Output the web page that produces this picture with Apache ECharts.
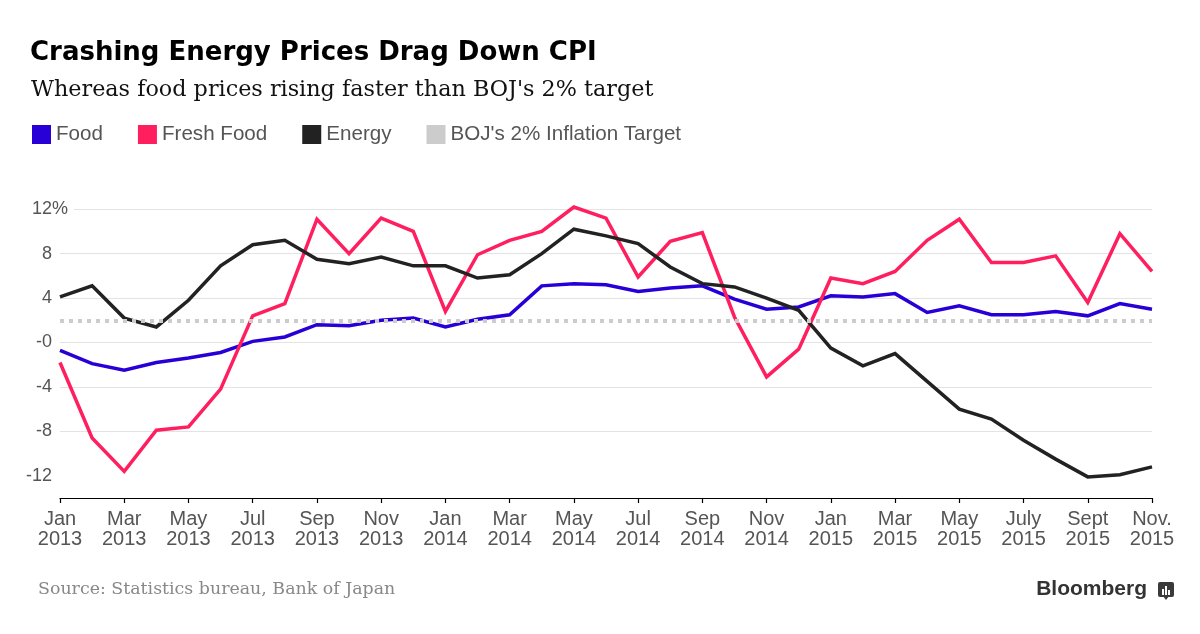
<!DOCTYPE html>
<html><head><meta charset="utf-8">
<script src="https://cdn.jsdelivr.net/npm/echarts@6/dist/echarts.min.js"></script>
<style>html,body{margin:0;padding:0;background:#fff}#c{width:1200px;height:634px}</style>
</head><body><div id="c"></div>
<script>
const TITLE = 'Crashing Energy Prices Drag Down CPI';
const SUBTITLE = "Whereas food prices rising faster than BOJ's 2% target";
const SOURCE = 'Source: Statistics bureau, Bank of Japan';
const SERIES_NAMES = ['Food', 'Fresh Food', 'Energy', "BOJ's 2% Inflation Target"];

const months = [
  'Jan\n2013','Feb\n2013','Mar\n2013','Apr\n2013','May\n2013','Jun\n2013','Jul\n2013','Aug\n2013','Sep\n2013','Oct\n2013','Nov\n2013','Dec\n2013',
  'Jan\n2014','Feb\n2014','Mar\n2014','Apr\n2014','May\n2014','Jun\n2014','Jul\n2014','Aug\n2014','Sep\n2014','Oct\n2014','Nov\n2014','Dec\n2014',
  'Jan\n2015','Feb\n2015','Mar\n2015','Apr\n2015','May\n2015','Jun\n2015','July\n2015','Aug\n2015','Sept\n2015','Oct\n2015','Nov.\n2015'
];
const food = [
  -0.7,-1.9,-2.5,-1.8,-1.4,-0.9,0.1,0.5,1.6,1.5,2.0,2.2,
  1.4,2.1,2.5,5.1,5.3,5.2,4.6,4.9,5.1,3.9,3.0,3.2,
  4.2,4.1,4.4,2.7,3.3,2.5,2.5,2.8,2.4,3.5,3.0
];
const freshFood = [
  -1.8,-8.6,-11.6,-7.9,-7.6,-4.2,2.4,3.5,11.1,8.0,11.2,10.0,
  2.8,7.9,9.2,10.0,12.2,11.2,5.9,9.1,9.9,2.3,-3.1,-0.6,
  5.8,5.3,6.4,9.2,11.1,7.2,7.2,7.8,3.6,9.8,6.4
];
const energy = [
  4.1,5.1,2.2,1.4,3.8,6.9,8.8,9.2,7.5,7.1,7.7,6.9,
  6.9,5.8,6.1,8.0,10.2,9.6,8.9,6.8,5.3,5.0,4.0,2.9,
  -0.5,-2.1,-1.0,-3.5,-6.0,-6.9,-8.8,-10.5,-12.1,-11.9,-11.2
];
const BOJ_TARGET = 2;
const yTickLabels = {'12': '12', '8': '8', '4': '4', '0': '-0', '-4': '-4', '-8': '-8', '-12': '-12'};
const yGridValues = [-8, -4, 0, 4, 8, 12];

const Y_MIN = -14, Y_MAX = 14, Y_STEP = 2;
const GRID_COLOR = '#e3e3e3';
const splitColors = [];
for (let v = Y_MIN; v <= Y_MAX; v += Y_STEP) splitColors.push(yGridValues.indexOf(v) >= 0 ? GRID_COLOR : 'rgba(0,0,0,0)');

const COLORS = ['#2800d7', '#ff1f5f', '#222222', '#cccccc'];
const chart = echarts.init(document.getElementById('c'), null, {renderer: 'canvas'});
const lineSeries = (name, data, color) => ({
  name, type: 'line', data, showSymbol: false, symbol: 'none',
  color, itemStyle: {color},
  lineStyle: {color, width: 3.5, join: 'miter'},
  emphasis: {disabled: true}
});

chart.setOption({
  animation: false,
  backgroundColor: '#fff',
  title: [
    {text: TITLE, left: 30, top: 40, padding: 0,
     textStyle: {fontFamily: 'DejaVu Sans', fontWeight: 'bold', fontSize: 26, color: '#000'}},
    {text: SUBTITLE, left: 31, top: 79, padding: 0,
     textStyle: {fontFamily: 'DejaVu Serif', fontWeight: 'normal', fontSize: 22.3, color: '#111'}},
    {text: SOURCE, left: 38, top: 581, padding: 0,
     textStyle: {fontFamily: 'DejaVu Serif', fontWeight: 'normal', fontSize: 17.4, color: '#888'}},
    {text: 'Bloomberg', right: 53, top: 579, padding: 0,
     textStyle: {fontFamily: 'Liberation Sans', fontWeight: 'bold', fontSize: 21, color: '#333'}}
  ],
  legend: {
    left: 32, top: 124, padding: 0, icon: 'rect', itemWidth: 19, itemHeight: 19, itemGap: 35,
    itemStyle: {borderWidth: 0},
    textStyle: {fontFamily: 'Liberation Sans', fontSize: 20.6, color: '#555', padding: [0, 0, 0, 0]},
    data: SERIES_NAMES, selectedMode: false
  },
  grid: {left: 60, right: 48, top: 187, bottom: 136, containLabel: false},
  xAxis: {
    type: 'category', data: months, boundaryGap: false,
    axisLine: {onZero: false, lineStyle: {color: '#000', width: 1.2}},
    axisTick: {show: true, interval: 1, length: 5, lineStyle: {color: '#000', width: 1.2}},
    axisLabel: {interval: 1, margin: 12, fontFamily: 'Liberation Sans', fontSize: 20, lineHeight: 19.5, color: '#555'},
    splitLine: {show: false}
  },
  yAxis: {
    type: 'value', min: Y_MIN, max: Y_MAX, interval: Y_STEP,
    axisLine: {show: false}, axisTick: {show: false},
    splitLine: {show: true, showMinLine: true, showMaxLine: true, lineStyle: {color: splitColors, width: 1}},
    axisLabel: {
      margin: -14, fontFamily: 'Liberation Sans', fontSize: 18, color: '#555',
      formatter: v => {
        const t = yTickLabels[String(v)];
        if (t === undefined) return '';
        return v === 12 ? '{n|' + t + '}{q|%}' : '{n|' + t + '}{p| }';
      },
      rich: {
        n: {fontFamily: 'Liberation Sans', fontSize: 18, color: '#555'},
        p: {fontFamily: 'Liberation Sans', fontSize: 18, width: 22},
        q: {fontFamily: 'Liberation Sans', fontSize: 18, color: '#555', backgroundColor: '#fff', padding: [0, 6, 0, 0]}
      }
    }
  },
  series: [
    lineSeries(SERIES_NAMES[0], food, COLORS[0]),
    lineSeries(SERIES_NAMES[1], freshFood, COLORS[1]),
    lineSeries(SERIES_NAMES[2], energy, COLORS[2]),
    {
      name: SERIES_NAMES[3], type: 'line', data: [], color: COLORS[3], itemStyle: {color: COLORS[3]},
      lineStyle: {color: COLORS[3]}, showSymbol: false,
      markLine: {
        silent: true, symbol: ['none', 'none'], label: {show: false}, animation: false,
        lineStyle: {color: COLORS[3], type: [4, 5], width: 4},
        emphasis: {disabled: true},
        data: [{yAxis: BOJ_TARGET}]
      }
    }
  ],
  graphic: [
    {type: 'group', left: 1158, top: 582, children: [
      {type: 'rect', shape: {x: 0, y: 0, width: 16, height: 15, r: 2}, style: {fill: '#3a3a3a'}},
      {type: 'polygon', shape: {points: [[5, 14], [11, 14], [8, 18]]}, style: {fill: '#3a3a3a'}},
      {type: 'rect', shape: {x: 4, y: 7, width: 2, height: 6}, style: {fill: '#fff'}},
      {type: 'rect', shape: {x: 7, y: 4, width: 2, height: 9}, style: {fill: '#fff'}},
      {type: 'rect', shape: {x: 10, y: 8, width: 2, height: 5}, style: {fill: '#fff'}}
    ]}
  ]
});
</script>
</body></html>
